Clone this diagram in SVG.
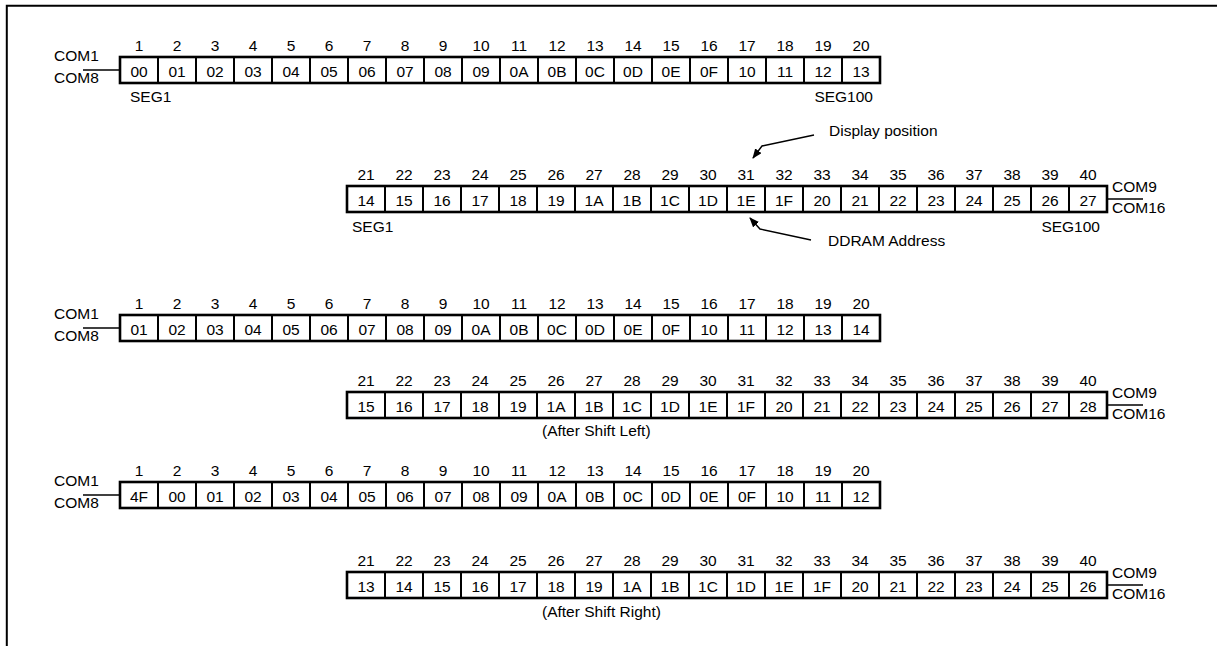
<svg xmlns="http://www.w3.org/2000/svg" width="1217" height="646" viewBox="0 0 1217 646">
<defs>
<style>
text{font-family:"Liberation Sans",Arial,sans-serif;font-size:15.5px;fill:#000}
.c{text-anchor:middle}
.e{text-anchor:end}
.box{fill:#fff;stroke:#000;stroke-width:2.6}
.div{stroke:#000;stroke-width:2}
.ln{stroke:#000;stroke-width:1.4;fill:none}
.fr{stroke:#000;stroke-width:2;fill:none}
</style>
<marker id="ah" markerWidth="10" markerHeight="8" refX="9" refY="4" orient="auto" markerUnits="userSpaceOnUse">
<path d="M0,0 L10,4 L0,8 Z" fill="#000"/>
</marker>
</defs>
<rect width="1217" height="646" fill="#fff"/>
<path class="fr" d="M6.8,646 V5.7 H1217"/>

<g id="row1">
<rect class="box" x="120" y="57" width="760" height="26"/>
<path class="div" d="M158,57V83M196,57V83M234,57V83M272,57V83M310,57V83M348,57V83M386,57V83M424,57V83M462,57V83M500,57V83M538,57V83M576,57V83M614,57V83M652,57V83M690,57V83M728,57V83M766,57V83M804,57V83M842,57V83"/>
<g class="c">
<text x="139" y="51">1</text><text x="177" y="51">2</text><text x="215" y="51">3</text><text x="253" y="51">4</text><text x="291" y="51">5</text><text x="329" y="51">6</text><text x="367" y="51">7</text><text x="405" y="51">8</text><text x="443" y="51">9</text><text x="481" y="51">10</text><text x="519" y="51">11</text><text x="557" y="51">12</text><text x="595" y="51">13</text><text x="633" y="51">14</text><text x="671" y="51">15</text><text x="709" y="51">16</text><text x="747" y="51">17</text><text x="785" y="51">18</text><text x="823" y="51">19</text><text x="861" y="51">20</text>
<text x="139" y="77">00</text><text x="177" y="77">01</text><text x="215" y="77">02</text><text x="253" y="77">03</text><text x="291" y="77">04</text><text x="329" y="77">05</text><text x="367" y="77">06</text><text x="405" y="77">07</text><text x="443" y="77">08</text><text x="481" y="77">09</text><text x="519" y="77">0A</text><text x="557" y="77">0B</text><text x="595" y="77">0C</text><text x="633" y="77">0D</text><text x="671" y="77">0E</text><text x="709" y="77">0F</text><text x="747" y="77">10</text><text x="785" y="77">11</text><text x="823" y="77">12</text><text x="861" y="77">13</text>
</g>
<text x="54" y="61">COM1</text>
<text x="54" y="83">COM8</text>
<text x="130" y="101.5">SEG1</text>
<text class="e" x="873" y="101.5">SEG100</text>
</g>

<g id="row2">
<rect class="box" x="347" y="186" width="760" height="26"/>
<path class="div" d="M385,186V212M423,186V212M461,186V212M499,186V212M537,186V212M575,186V212M613,186V212M651,186V212M689,186V212M727,186V212M765,186V212M803,186V212M841,186V212M879,186V212M917,186V212M955,186V212M993,186V212M1031,186V212M1069,186V212"/>
<g class="c">
<text x="366" y="180">21</text><text x="404" y="180">22</text><text x="442" y="180">23</text><text x="480" y="180">24</text><text x="518" y="180">25</text><text x="556" y="180">26</text><text x="594" y="180">27</text><text x="632" y="180">28</text><text x="670" y="180">29</text><text x="708" y="180">30</text><text x="746" y="180">31</text><text x="784" y="180">32</text><text x="822" y="180">33</text><text x="860" y="180">34</text><text x="898" y="180">35</text><text x="936" y="180">36</text><text x="974" y="180">37</text><text x="1012" y="180">38</text><text x="1050" y="180">39</text><text x="1088" y="180">40</text>
<text x="366" y="206">14</text><text x="404" y="206">15</text><text x="442" y="206">16</text><text x="480" y="206">17</text><text x="518" y="206">18</text><text x="556" y="206">19</text><text x="594" y="206">1A</text><text x="632" y="206">1B</text><text x="670" y="206">1C</text><text x="708" y="206">1D</text><text x="746" y="206">1E</text><text x="784" y="206">1F</text><text x="822" y="206">20</text><text x="860" y="206">21</text><text x="898" y="206">22</text><text x="936" y="206">23</text><text x="974" y="206">24</text><text x="1012" y="206">25</text><text x="1050" y="206">26</text><text x="1088" y="206">27</text>
</g>
<text x="1112" y="192">COM9</text>
<text x="1112" y="213">COM16</text>
<text x="352" y="231.5">SEG1</text>
<text class="e" x="1100" y="231.5">SEG100</text>
</g>

<g id="label-display">
<text x="829" y="136">Display position</text>
</g>
<g id="label-ddram">
<text x="828" y="246">DDRAM Address</text>
</g>

<g id="row3">
<rect class="box" x="120" y="315" width="760" height="26"/>
<path class="div" d="M158,315V341M196,315V341M234,315V341M272,315V341M310,315V341M348,315V341M386,315V341M424,315V341M462,315V341M500,315V341M538,315V341M576,315V341M614,315V341M652,315V341M690,315V341M728,315V341M766,315V341M804,315V341M842,315V341"/>
<g class="c">
<text x="139" y="309">1</text><text x="177" y="309">2</text><text x="215" y="309">3</text><text x="253" y="309">4</text><text x="291" y="309">5</text><text x="329" y="309">6</text><text x="367" y="309">7</text><text x="405" y="309">8</text><text x="443" y="309">9</text><text x="481" y="309">10</text><text x="519" y="309">11</text><text x="557" y="309">12</text><text x="595" y="309">13</text><text x="633" y="309">14</text><text x="671" y="309">15</text><text x="709" y="309">16</text><text x="747" y="309">17</text><text x="785" y="309">18</text><text x="823" y="309">19</text><text x="861" y="309">20</text>
<text x="139" y="335">01</text><text x="177" y="335">02</text><text x="215" y="335">03</text><text x="253" y="335">04</text><text x="291" y="335">05</text><text x="329" y="335">06</text><text x="367" y="335">07</text><text x="405" y="335">08</text><text x="443" y="335">09</text><text x="481" y="335">0A</text><text x="519" y="335">0B</text><text x="557" y="335">0C</text><text x="595" y="335">0D</text><text x="633" y="335">0E</text><text x="671" y="335">0F</text><text x="709" y="335">10</text><text x="747" y="335">11</text><text x="785" y="335">12</text><text x="823" y="335">13</text><text x="861" y="335">14</text>
</g>
<text x="54" y="319">COM1</text>
<text x="54" y="341">COM8</text>
</g>

<g id="row3b">
<rect class="box" x="347" y="392" width="760" height="26"/>
<path class="div" d="M385,392V418M423,392V418M461,392V418M499,392V418M537,392V418M575,392V418M613,392V418M651,392V418M689,392V418M727,392V418M765,392V418M803,392V418M841,392V418M879,392V418M917,392V418M955,392V418M993,392V418M1031,392V418M1069,392V418"/>
<g class="c">
<text x="366" y="386">21</text><text x="404" y="386">22</text><text x="442" y="386">23</text><text x="480" y="386">24</text><text x="518" y="386">25</text><text x="556" y="386">26</text><text x="594" y="386">27</text><text x="632" y="386">28</text><text x="670" y="386">29</text><text x="708" y="386">30</text><text x="746" y="386">31</text><text x="784" y="386">32</text><text x="822" y="386">33</text><text x="860" y="386">34</text><text x="898" y="386">35</text><text x="936" y="386">36</text><text x="974" y="386">37</text><text x="1012" y="386">38</text><text x="1050" y="386">39</text><text x="1088" y="386">40</text>
<text x="366" y="412">15</text><text x="404" y="412">16</text><text x="442" y="412">17</text><text x="480" y="412">18</text><text x="518" y="412">19</text><text x="556" y="412">1A</text><text x="594" y="412">1B</text><text x="632" y="412">1C</text><text x="670" y="412">1D</text><text x="708" y="412">1E</text><text x="746" y="412">1F</text><text x="784" y="412">20</text><text x="822" y="412">21</text><text x="860" y="412">22</text><text x="898" y="412">23</text><text x="936" y="412">24</text><text x="974" y="412">25</text><text x="1012" y="412">26</text><text x="1050" y="412">27</text><text x="1088" y="412">28</text>
</g>
<text x="1112" y="398">COM9</text>
<text x="1112" y="419">COM16</text>
<text x="542" y="435.5">(After Shift Left)</text>
</g>

<g id="row4">
<rect class="box" x="120" y="482" width="760" height="26"/>
<path class="div" d="M158,482V508M196,482V508M234,482V508M272,482V508M310,482V508M348,482V508M386,482V508M424,482V508M462,482V508M500,482V508M538,482V508M576,482V508M614,482V508M652,482V508M690,482V508M728,482V508M766,482V508M804,482V508M842,482V508"/>
<g class="c">
<text x="139" y="476">1</text><text x="177" y="476">2</text><text x="215" y="476">3</text><text x="253" y="476">4</text><text x="291" y="476">5</text><text x="329" y="476">6</text><text x="367" y="476">7</text><text x="405" y="476">8</text><text x="443" y="476">9</text><text x="481" y="476">10</text><text x="519" y="476">11</text><text x="557" y="476">12</text><text x="595" y="476">13</text><text x="633" y="476">14</text><text x="671" y="476">15</text><text x="709" y="476">16</text><text x="747" y="476">17</text><text x="785" y="476">18</text><text x="823" y="476">19</text><text x="861" y="476">20</text>
<text x="139" y="502">4F</text><text x="177" y="502">00</text><text x="215" y="502">01</text><text x="253" y="502">02</text><text x="291" y="502">03</text><text x="329" y="502">04</text><text x="367" y="502">05</text><text x="405" y="502">06</text><text x="443" y="502">07</text><text x="481" y="502">08</text><text x="519" y="502">09</text><text x="557" y="502">0A</text><text x="595" y="502">0B</text><text x="633" y="502">0C</text><text x="671" y="502">0D</text><text x="709" y="502">0E</text><text x="747" y="502">0F</text><text x="785" y="502">10</text><text x="823" y="502">11</text><text x="861" y="502">12</text>
</g>
<text x="54" y="486">COM1</text>
<text x="54" y="508">COM8</text>
</g>

<g id="row4b">
<rect class="box" x="347" y="572" width="760" height="26"/>
<path class="div" d="M385,572V598M423,572V598M461,572V598M499,572V598M537,572V598M575,572V598M613,572V598M651,572V598M689,572V598M727,572V598M765,572V598M803,572V598M841,572V598M879,572V598M917,572V598M955,572V598M993,572V598M1031,572V598M1069,572V598"/>
<g class="c">
<text x="366" y="566">21</text><text x="404" y="566">22</text><text x="442" y="566">23</text><text x="480" y="566">24</text><text x="518" y="566">25</text><text x="556" y="566">26</text><text x="594" y="566">27</text><text x="632" y="566">28</text><text x="670" y="566">29</text><text x="708" y="566">30</text><text x="746" y="566">31</text><text x="784" y="566">32</text><text x="822" y="566">33</text><text x="860" y="566">34</text><text x="898" y="566">35</text><text x="936" y="566">36</text><text x="974" y="566">37</text><text x="1012" y="566">38</text><text x="1050" y="566">39</text><text x="1088" y="566">40</text>
<text x="366" y="592">13</text><text x="404" y="592">14</text><text x="442" y="592">15</text><text x="480" y="592">16</text><text x="518" y="592">17</text><text x="556" y="592">18</text><text x="594" y="592">19</text><text x="632" y="592">1A</text><text x="670" y="592">1B</text><text x="708" y="592">1C</text><text x="746" y="592">1D</text><text x="784" y="592">1E</text><text x="822" y="592">1F</text><text x="860" y="592">20</text><text x="898" y="592">21</text><text x="936" y="592">22</text><text x="974" y="592">23</text><text x="1012" y="592">24</text><text x="1050" y="592">25</text><text x="1088" y="592">26</text>
</g>
<text x="1112" y="578">COM9</text>
<text x="1112" y="599">COM16</text>
<text x="542" y="616.5">(After Shift Right)</text>
</g>

<g id="connectors">
<path class="ln" d="M83,70H120"/>
<path class="ln" d="M1107,199H1143"/>
<path class="ln" d="M83,328H120"/>
<path class="ln" d="M1107,405H1143"/>
<path class="ln" d="M83,495H120"/>
<path class="ln" d="M1107,585H1143"/>
<path class="ln" d="M814,135L762,146L753,158" marker-end="url(#ah)"/>
<path class="ln" d="M811,240L760,229L750,218" marker-end="url(#ah)"/>
</g>
</svg>
